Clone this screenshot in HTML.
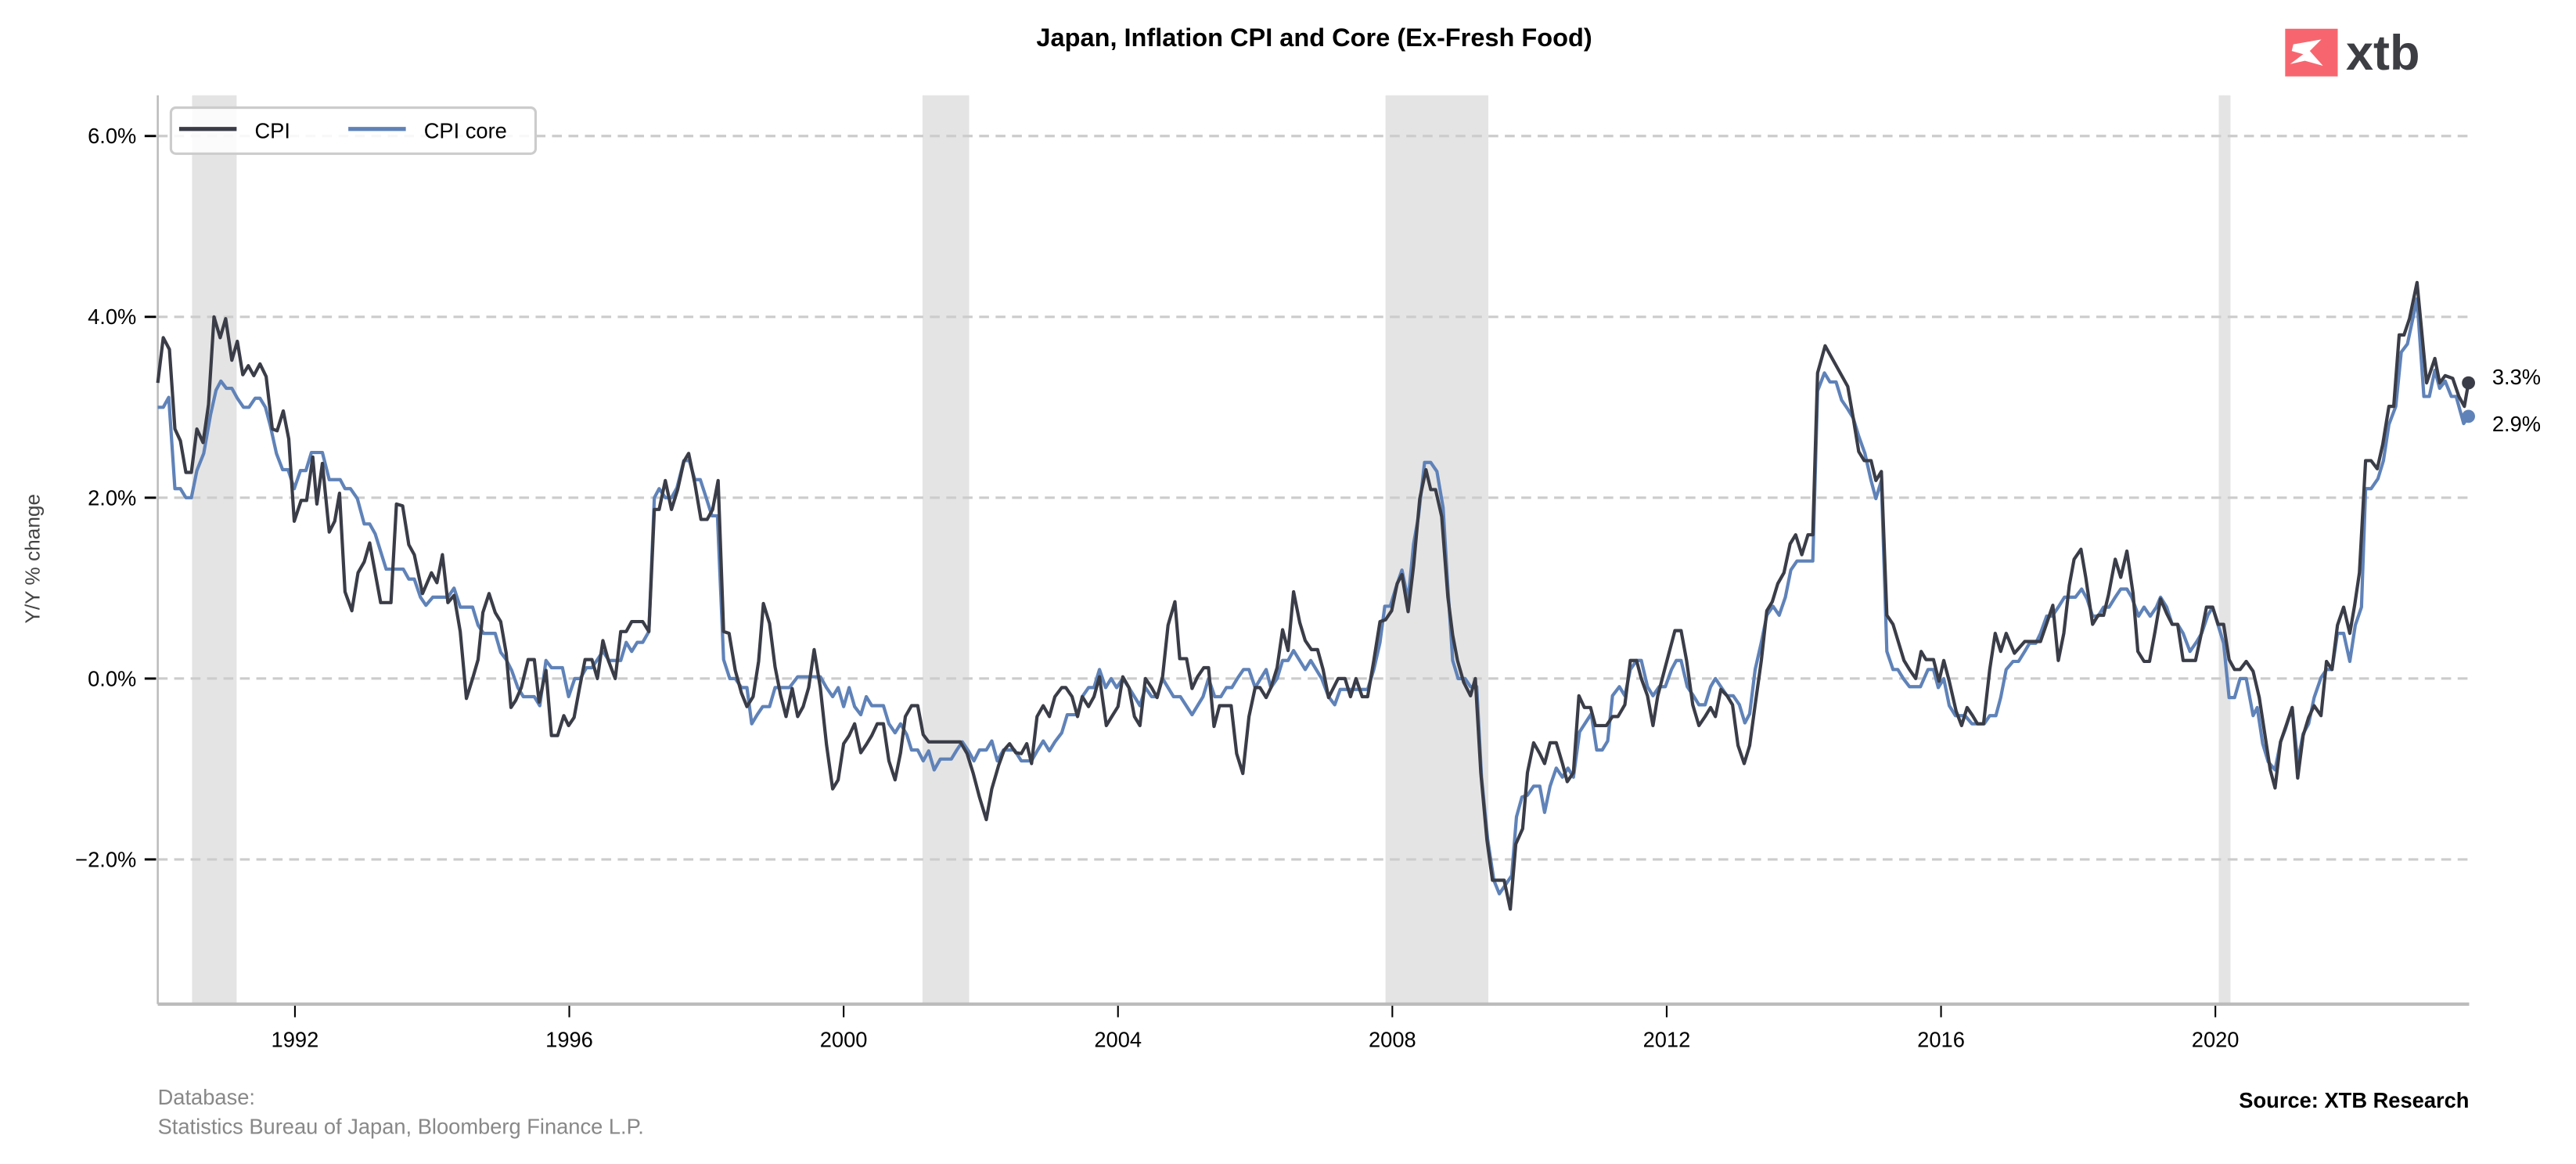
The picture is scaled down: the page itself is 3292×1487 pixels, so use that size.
<!DOCTYPE html>
<html><head><meta charset="utf-8">
<style>
html,body{margin:0;padding:0;background:#fff;}
svg{display:block;font-family:"Liberation Sans",Arial,sans-serif;}
</style></head>
<body>
<svg id="chart" width="3292" height="1487" viewBox="0 0 1568 708.3" xmlns="http://www.w3.org/2000/svg">
  <rect x="0" y="0" width="1568" height="708.3" fill="#fff"/>
  <text x="800" y="28" text-anchor="middle" font-size="15.5" font-weight="bold" fill="#000">Japan, Inflation CPI and Core (Ex-Fresh Food)</text>
  <g>
    <rect x="1391" y="17.5" width="32" height="29" fill="#f7666f"/>
    <path d="M1396 27 L1413 24 L1406 31 L1414 40 L1403 37 L1394 39 L1402 33 L1395 31 Z" fill="#fff"/>
    <text x="1428" y="42.5" font-size="30" font-weight="bold" fill="#3d3d44">xtb</text>
  </g>
  <g id="shades"></g>
  <g id="grid"></g>
  <g id="axes"></g>
  <g id="series"></g>
  <text transform="translate(24,340) rotate(-90)" text-anchor="middle" font-size="12.5" fill="#444">Y/Y % change</text>
  <g>
    <rect x="104" y="65.5" width="222" height="28" rx="3" fill="#fff" fill-opacity="0.85" stroke="#ccc" stroke-width="1.5"/>
    <line x1="109" y1="78.5" x2="144" y2="78.5" stroke="#3a3d47" stroke-width="2.5"/>
    <text x="155" y="84" font-size="13" fill="#000">CPI</text>
    <line x1="212" y1="78.5" x2="247" y2="78.5" stroke="#5f82b8" stroke-width="2.5"/>
    <text x="258" y="84" font-size="13" fill="#000">CPI core</text>
  </g>
  <text x="96" y="672" font-size="13" fill="#888">Database:</text>
  <text x="96" y="690" font-size="13" fill="#888">Statistics Bureau of Japan, Bloomberg Finance L.P.</text>
  <text x="1503" y="674" text-anchor="end" font-size="13" font-weight="bold" fill="#000">Source: XTB Research</text>
</svg>
<script>
const recStart = [1990.5, 2001.15, 2007.9, 2020.05];
const recEnd   = [1991.15, 2001.83, 2009.4, 2020.22];
const yTicks = [-2, 0, 2, 4, 6];
const yTickLabels = ["\u22122.0%", "0.0%", "2.0%", "4.0%", "6.0%"];
const xTicks = [1992, 1996, 2000, 2004, 2008, 2012, 2016, 2020];
const xTickLabels = ["1992", "1996", "2000", "2004", "2008", "2012", "2016", "2020"];

const cpiDates = [1990.0,1990.08,1990.17,1990.25,1990.33,1990.41,1990.49,1990.57,1990.66,1990.74,1990.82,1990.91,1990.99,1991.08,1991.16,1991.24,1991.32,1991.40,1991.49,1991.58,1991.67,1991.74,1991.83,1991.91,1991.99,1992.09,1992.17,1992.26,1992.32,1992.40,1992.50,1992.58,1992.65,1992.73,1992.83,1992.92,1993.01,1993.09,1993.25,1993.40,1993.48,1993.57,1993.66,1993.74,1993.86,1993.99,1994.07,1994.15,1994.23,1994.32,1994.41,1994.50,1994.59,1994.67,1994.74,1994.83,1994.92,1995.00,1995.08,1995.15,1995.22,1995.30,1995.40,1995.49,1995.56,1995.66,1995.74,1995.83,1995.92,1995.99,1996.07,1996.15,1996.23,1996.33,1996.41,1996.49,1996.57,1996.67,1996.75,1996.83,1996.91,1997.07,1997.16,1997.24,1997.31,1997.40,1997.49,1997.58,1997.67,1997.74,1997.83,1997.92,1998.01,1998.09,1998.17,1998.25,1998.33,1998.42,
1998.51,1998.59,1998.68,1998.76,1998.83,1998.92,1999.0,1999.08,1999.16,1999.25,1999.33,1999.41,1999.49,1999.57,1999.66,1999.75,1999.84,1999.92,2000.0,2000.08,2000.16,2000.25,2000.33,2000.41,2000.49,2000.58,2000.66,2000.75,2000.83,2000.90,2000.99,2001.08,2001.16,2001.24,2001.70,2001.80,2001.89,2001.98,2002.08,2002.16,2002.26,2002.34,2002.42,2002.51,2002.59,2002.67,2002.74,2002.82,2002.91,2003.0,2003.08,2003.18,2003.24,2003.33,2003.41,2003.48,2003.57,2003.65,2003.73,2003.83,2003.91,2004.0,2004.07,2004.16,2004.24,2004.32,2004.40,2004.49,2004.57,2004.65,2004.73,2004.83,2004.90,2005.0,2005.08,2005.16,2005.25,2005.32,2005.40,2005.48,2005.65,2005.73,2005.82,2005.91,2006.0,2006.07,2006.16,2006.23,2006.32,2006.40,2006.48,2006.56,2006.65,2006.73,2006.82,2006.91,2006.99,
2007.07,2007.21,2007.31,2007.39,2007.47,2007.56,2007.64,2007.73,2007.82,2007.90,2007.99,2008.07,2008.14,2008.23,2008.31,2008.40,2008.49,2008.56,2008.63,2008.72,2008.81,2008.88,2008.95,2009.04,2009.14,2009.21,2009.29,2009.38,2009.46,2009.56,2009.63,2009.72,2009.80,2009.90,2009.97,2010.06,2010.15,2010.22,2010.30,2010.39,2010.48,2010.55,2010.64,2010.72,2010.80,2010.89,2010.96,2011.12,2011.21,2011.29,2011.39,2011.47,2011.56,2011.63,2011.72,2011.80,2011.87,2011.97,2012.05,2012.12,2012.21,2012.29,2012.38,2012.47,2012.56,2012.64,2012.71,2012.79,2012.88,2012.96,2013.04,2013.13,2013.21,2013.29,2013.38,2013.46,2013.54,2013.62,2013.71,2013.80,2013.88,2013.97,2014.06,2014.13,2014.20,2014.31,2014.64,2014.72,2014.80,2014.88,2014.98,2015.05,2015.13,2015.21,2015.30,2015.46,2015.54,2015.63,
2015.71,2015.78,2015.89,2015.97,2016.04,2016.12,2016.22,2016.30,2016.38,2016.46,2016.53,2016.62,2016.71,2016.79,2016.87,2016.95,2017.07,2017.22,2017.45,2017.54,2017.63,2017.71,2017.79,2017.87,2017.94,2018.04,2018.11,2018.21,2018.29,2018.37,2018.44,2018.54,2018.62,2018.71,2018.80,2018.87,2018.96,2019.04,2019.12,2019.20,2019.29,2019.37,2019.45,2019.53,2019.71,2019.79,2019.87,2019.96,2020.04,2020.12,2020.20,2020.28,2020.36,2020.45,2020.55,2020.64,2020.72,2020.80,2020.87,2020.95,2021.04,2021.12,2021.20,2021.28,2021.36,2021.44,2021.54,2021.62,2021.70,2021.78,2021.87,2021.96,2022.03,2022.10,2022.19,2022.27,2022.36,2022.44,2022.53,2022.60,2022.68,2022.75,2022.83,2022.94,2023.08,2023.20,2023.27,2023.35,2023.46,2023.55,2023.63,2023.69];
const cpiValues = [3.27,3.77,3.64,2.76,2.63,2.28,2.28,2.76,2.61,3.03,4.0,3.77,3.98,3.52,3.73,3.36,3.46,3.35,3.48,3.34,2.76,2.74,2.96,2.65,1.74,1.97,1.97,2.45,1.93,2.38,1.62,1.74,2.05,0.96,0.75,1.17,1.29,1.50,0.84,0.84,1.93,1.91,1.48,1.37,0.94,1.17,1.06,1.37,0.84,0.92,0.52,-0.22,0.0,0.21,0.73,0.94,0.73,0.63,0.28,-0.32,-0.24,-0.10,0.21,0.21,-0.26,0.09,-0.63,-0.63,-0.41,-0.52,-0.43,-0.10,0.21,0.21,0.0,0.42,0.20,0.0,0.52,0.52,0.63,0.63,0.52,1.87,1.87,2.19,1.87,2.09,2.40,2.49,2.16,1.76,1.76,1.87,2.19,0.52,0.50,0.09,
-0.16,-0.31,-0.20,0.19,0.83,0.61,0.13,-0.18,-0.42,-0.11,-0.42,-0.31,-0.10,0.32,-0.10,-0.73,-1.22,-1.12,-0.72,-0.63,-0.50,-0.82,-0.73,-0.63,-0.50,-0.50,-0.91,-1.12,-0.82,-0.42,-0.30,-0.30,-0.62,-0.70,-0.70,-0.83,-1.05,-1.31,-1.56,-1.22,-0.96,-0.79,-0.72,-0.82,-0.83,-0.72,-0.94,-0.42,-0.30,-0.42,-0.20,-0.10,-0.10,-0.20,-0.42,-0.20,-0.31,-0.20,0.02,-0.52,-0.42,-0.31,0.02,-0.10,-0.42,-0.52,0.0,-0.10,-0.21,0.02,0.59,0.85,0.22,0.22,-0.11,0.02,0.12,0.12,-0.53,-0.30,-0.30,-0.83,-1.05,-0.42,-0.10,-0.10,-0.21,-0.10,0.12,0.54,0.31,0.96,0.62,0.42,0.32,0.32,0.10,
-0.21,0.0,0.0,-0.20,0.0,-0.20,-0.20,0.20,0.63,0.65,0.75,1.05,1.15,0.74,1.25,1.99,2.31,2.09,2.09,1.79,0.90,0.48,0.20,-0.04,-0.19,0.0,-1.04,-1.79,-2.23,-2.23,-2.23,-2.55,-1.83,-1.66,-1.04,-0.71,-0.83,-0.94,-0.71,-0.71,-0.94,-1.14,-1.04,-0.19,-0.32,-0.32,-0.52,-0.52,-0.42,-0.42,-0.29,0.20,0.20,0.0,-0.19,-0.52,-0.19,0.10,0.33,0.53,0.53,0.20,-0.29,-0.52,-0.42,-0.32,-0.42,-0.12,-0.19,-0.29,-0.74,-0.94,-0.74,-0.29,0.20,0.75,0.85,1.05,1.17,1.49,1.59,1.37,1.59,1.59,3.38,3.68,3.23,2.88,2.51,2.41,2.41,2.19,2.29,0.70,0.60,0.20,0.10,0.0,
0.30,0.21,0.21,-0.03,0.20,-0.03,-0.36,-0.52,-0.32,-0.41,-0.50,-0.50,0.10,0.50,0.30,0.50,0.28,0.41,0.41,0.61,0.81,0.20,0.50,1.03,1.32,1.43,1.12,0.60,0.70,0.70,0.92,1.32,1.12,1.41,0.94,0.30,0.19,0.19,0.52,0.88,0.72,0.60,0.60,0.20,0.20,0.48,0.79,0.79,0.60,0.60,0.21,0.10,0.10,0.19,0.08,-0.21,-0.61,-1.01,-1.21,-0.70,-0.50,-0.32,-1.10,-0.63,-0.43,-0.30,-0.41,0.19,0.10,0.59,0.79,0.50,0.81,1.17,2.41,2.41,2.32,2.59,3.01,3.01,3.80,3.80,3.98,4.38,3.27,3.54,3.27,3.35,3.32,3.12,3.01,3.27];

const coreDates = [1990.0,1990.08,1990.16,1990.25,1990.33,1990.41,1990.49,1990.57,1990.67,1990.77,1990.85,1990.92,1991.0,1991.08,1991.16,1991.25,1991.33,1991.42,1991.49,1991.57,1991.64,1991.73,1991.82,1991.90,1991.99,1992.08,1992.16,1992.24,1992.40,1992.50,1992.66,1992.73,1992.81,1992.91,1993.01,1993.09,1993.17,1993.33,1993.58,1993.66,1993.74,1993.83,1993.91,1994.01,1994.23,1994.32,1994.41,1994.59,1994.67,1994.75,1994.92,1995.0,1995.08,1995.16,1995.25,1995.33,1995.49,1995.57,1995.66,1995.74,1995.90,1995.99,1996.08,1996.16,1996.25,1996.33,1996.41,1996.49,1996.58,1996.75,1996.83,1996.91,1996.99,1997.07,1997.16,1997.24,1997.31,1997.40,1997.49,1997.57,1997.67,1997.75,1997.83,1997.91,1998.0,1998.08,1998.16,1998.25,1998.34,1998.42,
1998.51,1998.59,1998.66,1998.74,1998.82,1998.92,1999.0,1999.21,1999.33,1999.66,1999.75,1999.84,1999.92,2000.0,2000.08,2000.16,2000.25,2000.33,2000.41,2000.58,2000.66,2000.75,2000.83,2000.92,2000.99,2001.08,2001.16,2001.24,2001.32,2001.41,2001.57,2001.65,2001.73,2001.82,2001.90,2001.98,2002.08,2002.16,2002.24,2002.33,2002.49,2002.59,2002.74,2002.83,2002.91,2003.0,2003.08,2003.18,2003.26,2003.41,2003.48,2003.57,2003.65,2003.73,2003.82,2003.90,2003.98,2004.07,2004.16,2004.32,2004.40,2004.49,2004.57,2004.65,2004.81,2004.91,2005.08,2005.24,2005.32,2005.41,2005.50,2005.58,2005.66,2005.74,2005.83,2005.91,2006.0,2006.16,2006.23,2006.32,2006.40,2006.48,2006.56,2006.73,2006.81,2006.97,
2007.07,2007.16,2007.24,2007.64,2007.73,2007.82,2007.89,2007.97,2008.05,2008.14,2008.23,2008.31,2008.38,2008.47,2008.56,2008.65,2008.74,2008.81,2008.88,2008.96,2009.06,2009.14,2009.23,2009.30,2009.39,2009.48,2009.56,2009.74,2009.81,2009.89,2009.97,2010.06,2010.15,2010.22,2010.30,2010.39,2010.48,2010.56,2010.64,2010.73,2010.90,2010.98,2011.06,2011.14,2011.21,2011.31,2011.39,2011.47,2011.56,2011.63,2011.72,2011.80,2011.89,2011.98,2012.07,2012.14,2012.21,2012.30,2012.39,2012.47,2012.56,2012.64,2012.71,2012.79,2012.88,2012.97,2013.06,2013.14,2013.21,2013.29,2013.38,2013.46,2013.55,2013.64,2013.73,2013.81,2013.90,2014.13,2014.20,2014.30,2014.38,2014.47,2014.55,2014.64,2014.72,2014.80,2014.89,2014.98,2015.05,2015.13,2015.21,2015.30,2015.37,2015.45,2015.54,
2015.70,2015.81,2015.89,2015.96,2016.04,2016.12,2016.21,2016.35,2016.45,2016.63,2016.71,2016.80,2016.87,2016.95,2017.05,2017.13,2017.22,2017.29,2017.38,2017.45,2017.54,2017.62,2017.71,2017.80,2017.96,2018.05,2018.13,2018.21,2018.29,2018.37,2018.45,2018.54,2018.62,2018.71,2018.78,2018.88,2018.96,2019.05,2019.14,2019.20,2019.29,2019.37,2019.45,2019.53,2019.63,2019.73,2019.80,2019.89,2019.96,2020.04,2020.12,2020.20,2020.28,2020.36,2020.45,2020.55,2020.61,2020.69,2020.77,2020.87,2020.95,2021.02,2021.12,2021.20,2021.28,2021.36,2021.44,2021.54,2021.62,2021.70,2021.78,2021.87,2021.96,2022.04,2022.13,2022.19,2022.27,2022.37,2022.45,2022.53,2022.63,2022.71,2022.80,2022.94,2023.04,2023.12,2023.20,2023.27,2023.35,2023.44,2023.51,2023.62,2023.69];
const coreValues = [3.0,3.0,3.11,2.10,2.10,2.0,2.0,2.30,2.49,2.92,3.19,3.29,3.21,3.21,3.10,3.0,3.0,3.10,3.10,3.0,2.80,2.49,2.31,2.31,2.10,2.30,2.30,2.50,2.50,2.20,2.20,2.10,2.10,1.99,1.71,1.71,1.60,1.21,1.21,1.10,1.10,0.90,0.81,0.90,0.90,1.0,0.79,0.79,0.59,0.50,0.50,0.29,0.21,0.09,-0.10,-0.20,-0.20,-0.30,0.20,0.12,0.12,-0.20,0.0,0.0,0.12,0.12,0.21,0.30,0.20,0.20,0.40,0.30,0.40,0.40,0.52,2.0,2.10,2.0,2.0,2.11,2.41,2.41,2.20,2.20,1.99,1.80,1.80,0.21,0.0,0.0,
-0.10,-0.10,-0.50,-0.40,-0.31,-0.31,-0.10,-0.10,0.02,0.02,-0.10,-0.20,-0.10,-0.31,-0.10,-0.31,-0.40,-0.20,-0.30,-0.30,-0.50,-0.60,-0.50,-0.62,-0.79,-0.79,-0.91,-0.80,-1.01,-0.89,-0.89,-0.79,-0.70,-0.80,-0.91,-0.79,-0.79,-0.69,-0.91,-0.79,-0.79,-0.91,-0.91,-0.79,-0.69,-0.80,-0.70,-0.60,-0.40,-0.40,-0.20,-0.10,-0.10,0.10,-0.10,0.0,-0.10,0.0,-0.10,-0.30,-0.10,-0.20,-0.20,0.0,-0.20,-0.20,-0.40,-0.20,0.0,-0.20,-0.20,-0.10,-0.10,0.0,0.10,0.10,-0.10,0.10,-0.10,0.0,0.20,0.20,0.31,0.10,0.20,0.0,
-0.20,-0.29,-0.12,-0.12,0.10,0.40,0.80,0.80,1.0,1.20,0.87,1.49,1.79,2.39,2.39,2.29,1.89,1.0,0.20,0.0,0.0,-0.09,-0.09,-1.09,-1.78,-2.23,-2.38,-2.18,-1.53,-1.31,-1.29,-1.19,-1.19,-1.48,-1.19,-0.99,-1.09,-0.99,-1.09,-0.59,-0.39,-0.79,-0.79,-0.69,-0.19,-0.09,-0.19,0.10,0.20,0.20,-0.09,-0.19,-0.09,-0.09,0.10,0.20,0.20,-0.09,-0.19,-0.29,-0.29,-0.09,0.0,-0.09,-0.19,-0.19,-0.29,-0.49,-0.39,0.10,0.40,0.70,0.80,0.70,0.90,1.20,1.30,1.30,3.18,3.38,3.28,3.28,3.08,2.98,2.88,2.68,2.49,2.19,1.99,2.19,0.30,0.10,0.10,0.0,-0.09,
-0.09,0.10,0.10,-0.10,0.0,-0.30,-0.41,-0.41,-0.50,-0.50,-0.41,-0.41,-0.21,0.10,0.19,0.19,0.30,0.39,0.39,0.50,0.69,0.69,0.79,0.90,0.90,0.99,0.88,0.69,0.69,0.79,0.79,0.90,0.99,0.99,0.90,0.69,0.79,0.69,0.79,0.90,0.79,0.60,0.60,0.50,0.30,0.41,0.50,0.70,0.79,0.59,0.39,-0.21,-0.21,0.0,0.0,-0.41,-0.32,-0.72,-0.92,-1.01,-0.70,-0.56,-0.32,-0.92,-0.61,-0.50,-0.21,0.01,0.10,0.10,0.50,0.50,0.19,0.59,0.79,2.10,2.10,2.21,2.41,2.81,3.01,3.61,3.70,4.20,3.12,3.12,3.41,3.21,3.29,3.12,3.12,2.82,2.90];

const NS = "http://www.w3.org/2000/svg";
const X0 = 96, X1 = 1503, Y0 = 58, Y1 = 611;
const xMin = 1990.0, xMax = 2023.7, yMin = -3.6, yMax = 6.45;
function xs(v){ return X0 + (v - xMin) / (xMax - xMin) * (X1 - X0); }
function ys(v){ return Y1 - (v - yMin) / (yMax - yMin) * (Y1 - Y0); }
function mk(tag, attrs, parent){
  const e = document.createElementNS(NS, tag);
  for (const k in attrs) e.setAttribute(k, attrs[k]);
  parent.appendChild(e);
  return e;
}

const shades = document.getElementById('shades');
for (let i = 0; i < recStart.length; i++) {
  const r = mk('rect', {x: xs(recStart[i]), y: Y0, width: xs(recEnd[i]) - xs(recStart[i]), height: Y1 - Y0, fill: '#e4e4e4'}, shades);
  
  
}

const grid = document.getElementById('grid');
const axes = document.getElementById('axes');
for (let i = 0; i < yTicks.length; i++) {
  const y = ys(yTicks[i]);
  const g = mk('line', {x1: X0, x2: X1, y1: y, y2: y, stroke: '#cccccc', 'stroke-width': 1.5, 'stroke-dasharray': '6,4'}, grid);
  
  
  const t = mk('line', {x1: 88, x2: 95, y1: y, y2: y, stroke: '#000', 'stroke-width': 1.4}, axes);
  
  
  const l = mk('text', {x: 83, y: y + 4.5, 'text-anchor': 'end', 'font-size': 13, fill: '#000'}, axes);
  l.textContent = yTickLabels[i];
  
  
}
const ls = mk('line', {x1: X0, x2: X0, y1: Y0, y2: Y1, stroke: '#bbbbbb', 'stroke-width': 1.2}, axes);


const bs = mk('line', {x1: X0, x2: X1, y1: Y1, y2: Y1, stroke: '#bbbbbb', 'stroke-width': 2}, axes);


for (let i = 0; i < xTicks.length; i++) {
  const x = xs(xTicks[i]);
  const t = mk('line', {x1: x, x2: x, y1: Y1 + 1, y2: Y1 + 8, stroke: '#000', 'stroke-width': 1}, axes);
  
  
  const l = mk('text', {x: x, y: Y1 + 26, 'text-anchor': 'middle', 'font-size': 13, fill: '#000'}, axes);
  l.textContent = xTickLabels[i];
  
  
}

const series = document.getElementById('series');
function drawLine(dates, vals, color, name){
  let d = '';
  for (let i = 0; i < dates.length; i++) d += (i ? 'L' : 'M') + xs(dates[i]).toFixed(2) + ' ' + ys(vals[i]).toFixed(2);
  const p = mk('path', {d: d, fill: 'none', stroke: color, 'stroke-width': 2, 'stroke-linejoin': 'round'}, series);
  
  
  const n = dates.length - 1;
  const c = mk('circle', {cx: xs(dates[n]), cy: ys(vals[n]), r: 4, fill: color}, series);
  
  
  return ys(vals[n]);
}
const yc = drawLine(coreDates, coreValues, '#5f82b8', 'cpi-core-line');
const yp = drawLine(cpiDates, cpiValues, '#3a3d47', 'cpi-line');
const svg = document.getElementById('chart');
const lp = mk('text', {x: 1517, y: yp + 1, 'font-size': 13, fill: '#000'}, svg);
lp.textContent = cpiValues[cpiValues.length - 1].toFixed(1) + '%';


const lc = mk('text', {x: 1517, y: yc + 9, 'font-size': 13, fill: '#000'}, svg);
lc.textContent = coreValues[coreValues.length - 1].toFixed(1) + '%';


</script>
</body></html>
